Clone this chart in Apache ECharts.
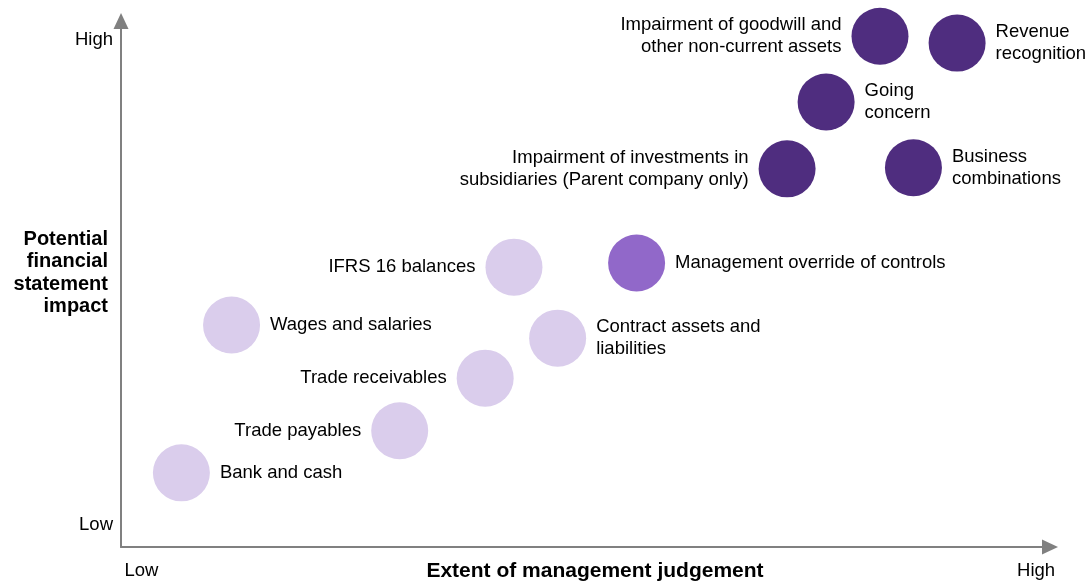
<!DOCTYPE html>
<html>
<head>
<meta charset="utf-8">
<script src="https://cdn.jsdelivr.net/npm/echarts@6/dist/echarts.min.js"></script>
<style>
  html, body { margin: 0; padding: 0; background: #fff; }
  #chart { width: 1088px; height: 584px; }
</style>
</head>
<body>
<div id="chart"></div>
<script>
// risk items: judgement (x) vs financial statement impact (y), 0..100 scale
const itemNames = [
  'Bank and cash',
  'Trade payables',
  'Trade receivables',
  'Wages and salaries',
  'Contract assets and\nliabilities',
  'IFRS 16 balances',
  'Management override of controls',
  'Impairment of investments in\nsubsidiaries (Parent company only)',
  'Business\ncombinations',
  'Going\nconcern',
  'Impairment of goodwill and\nother non-current assets',
  'Revenue\nrecognition'
];
const judgement = [6.5, 30.0, 39.2, 11.9, 47.0, 42.3, 55.5, 71.7, 85.3, 75.9, 81.7, 90.0];
const impact    = [14.1, 22.1, 32.1, 42.2, 39.7, 53.2, 54.0, 71.9, 72.1, 84.6, 97.1, 95.8];
// 0 = lower risk, 1 = elevated, 2 = significant
const riskLevel = [0, 0, 0, 0, 0, 0, 1, 2, 2, 2, 2, 2];

const xTickValues = [2.2, 98.5];
const xTickLabels = ['Low', 'High'];
const yTickValues = [4.2, 96.4];
const yTickLabels = ['Low', 'High'];

const LEVEL_COLOR = ['#dacdec', '#9168c9', '#4f2d7f'];
const AXIS_GREY = '#808080';
const FONT = '"Liberation Sans", Arial, Helvetica, sans-serif';

// which labels sit on the left side of their bubble
const leftLabelled = new Set([1, 2, 5, 7, 10]);

const chart = echarts.init(document.getElementById('chart'));

chart.setOption({
  animation: false,
  grid: { left: 121, right: 38, top: 21, bottom: 37, containLabel: false, outerBoundsMode: 'none' },
  xAxis: {
    type: 'value',
    min: 0,
    max: 100,
    name: 'Extent of management judgement',
    nameLocation: 'middle',
    nameGap: 14,
    nameMoveOverlap: false,
    nameTextStyle: {
      color: '#000', fontSize: 21, fontWeight: 'bold', fontFamily: FONT,
      padding: [0, 0, 0, 19],
    },
    splitLine: { show: false },
    axisTick: { show: false },
    axisLine: {
      show: true,
      symbol: ['none', 'triangle'],
      symbolSize: [15, 16],
      lineStyle: { color: AXIS_GREY, width: 2 },
    },
    axisLabel: {
      customValues: xTickValues,
      margin: 14,
      color: '#000',
      fontSize: 18.5,
      fontFamily: FONT,
      formatter: v => xTickLabels[xTickValues.indexOf(v)] ?? '',
    },
  },
  yAxis: {
    type: 'value',
    min: 0,
    max: 100,
    // trailing blank line lifts the block to sit a little above the axis middle
    name: 'Potential\nfinancial\nstatement\nimpact\n',
    nameLocation: 'middle',
    nameRotate: 0,
    nameGap: 13,
    nameMoveOverlap: false,
    nameTextStyle: {
      color: '#000', fontSize: 20, fontWeight: 'bold', fontFamily: FONT,
      lineHeight: 22.5, align: 'right',
    },
    splitLine: { show: false },
    axisTick: { show: false },
    axisLine: {
      show: true,
      symbol: ['none', 'triangle'],
      symbolSize: [15, 16],
      lineStyle: { color: AXIS_GREY, width: 2 },
    },
    axisLabel: {
      customValues: yTickValues,
      margin: 8,
      color: '#000',
      fontSize: 18.5,
      fontFamily: FONT,
      formatter: v => yTickLabels[yTickValues.indexOf(v)] ?? '',
    },
  },
  series: [
    {
      type: 'scatter',
      clip: false,
      symbol: 'circle',
      symbolSize: 57,
      emphasis: { disabled: true },
      data: itemNames.map((name, i) => {
        const left = leftLabelled.has(i);
        return {
          name,
          value: [judgement[i], impact[i]],
          itemStyle: { color: LEVEL_COLOR[riskLevel[i]], opacity: 1 },
          label: {
            show: true,
            position: left ? 'left' : 'right',
            align: left ? 'right' : 'left',
            distance: 10,
            formatter: '{b}',
            color: '#000',
            fontSize: 18.5,
            lineHeight: 22,
            fontFamily: FONT,
          },
        };
      }),
    },
  ],
});
</script>
</body>
</html>
